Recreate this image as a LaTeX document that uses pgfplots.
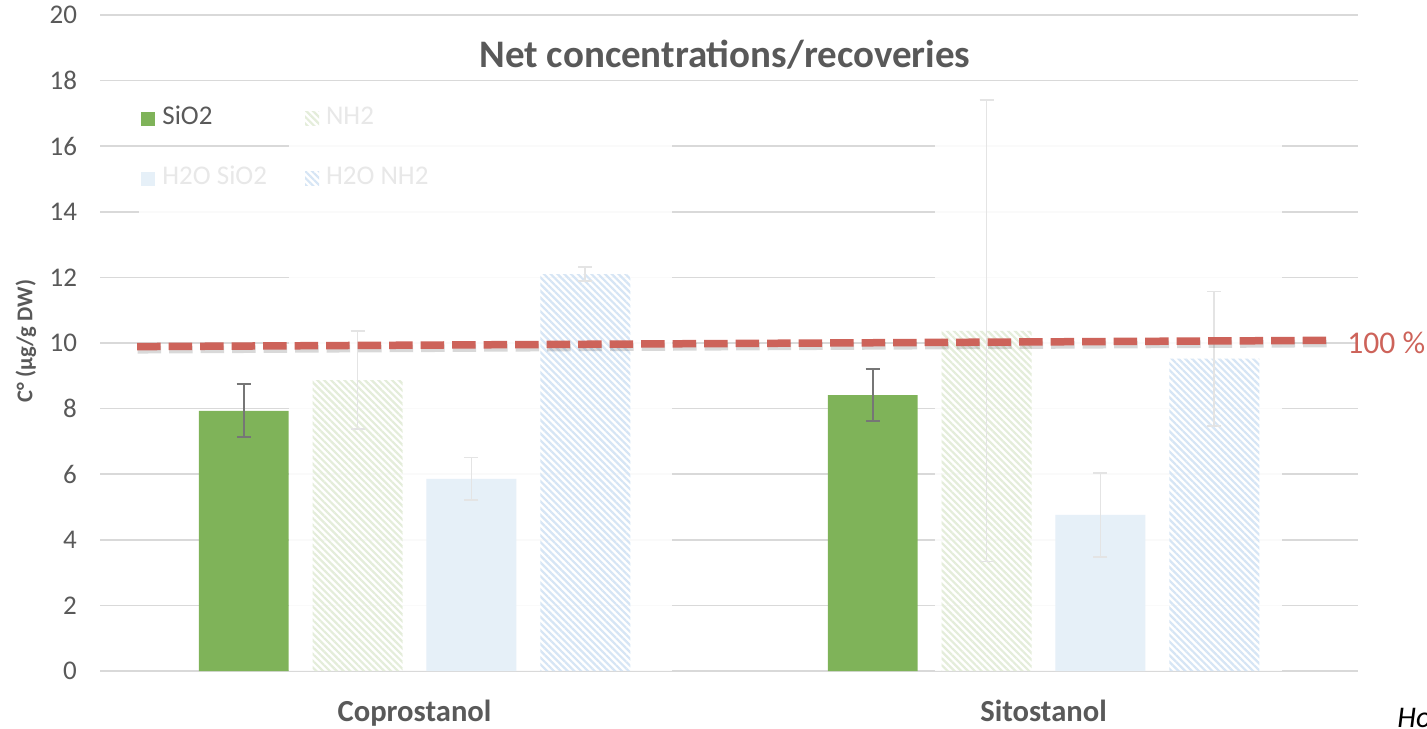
\documentclass[border=0pt]{standalone}
\usepackage{fontspec}
\setmainfont{Carlito}
\usepackage{pgfplots}
\pgfplotsset{compat=1.18}
\usetikzlibrary{patterns.meta}

\definecolor{sgreen}{RGB}{127,179,89}
\definecolor{ngreen}{RGB}{228,237,218}
\definecolor{hblue}{RGB}{230,240,248}
\definecolor{nblue}{RGB}{214,229,245}
\definecolor{gridgray}{RGB}{217,217,217}
\definecolor{textgray}{RGB}{89,89,89}
\definecolor{fadetext}{RGB}{232,232,232}
\definecolor{ebdark}{RGB}{118,118,118}
\definecolor{eblight}{RGB}{228,228,228}
\definecolor{refred}{RGB}{205,99,90}

\begin{document}
\begin{tikzpicture}
\useasboundingbox (0,0) rectangle (713.5pt,364pt);
\begin{axis}[
  at={(50pt,28.5pt)}, anchor=south west,
  scale only axis, width=629pt, height=328pt,
  xmin=-0.5, xmax=1.5, ymin=0, ymax=20,
  clip=false,
  xtick={0,1}, xticklabels={Coprostanol,Sitostanol},
  ytick={0,2,...,20},
  axis line style={draw=none},
  major tick length=0pt,
  ymajorgrids, grid style={color=gridgray, line width=0.8pt},
  /pgf/number format/assume math mode=true,
  yticklabel style={font=\fontsize{13.5}{16}\selectfont, color=textgray, xshift=-8pt},
  xticklabel style={font=\bfseries\fontsize{15.3}{18}\selectfont, color=textgray, inner sep=0pt, yshift=-14.5pt},
  ylabel={C° (µg/g DW)},
  ylabel style={at={(axis description cs:-0.0588,0.503)}, anchor=center, rotate=0, font=\bfseries\fontsize{11.3}{13}\selectfont, color=textgray},
  title={Net concentrations/recoveries},
  title style={at={(axis description cs:0.4968,0.9207)}, anchor=base, yshift=-6pt, font=\bfseries\fontsize{19.5}{23}\selectfont, color=textgray},
  legend columns=2,
  legend cell align=left,
  legend style={at={(axis description cs:0.0326,0.861)}, anchor=north west, draw=none, fill=none, inner sep=0pt,
    font=\fontsize{13.5}{16}\selectfont, row sep=18pt,
    nodes={inner sep=0pt, text height=9pt, text depth=3pt},
    /tikz/every odd column/.append style={column sep=3.5pt},
    /tikz/every even column/.append style={column sep=19pt}},
  mybar/.style={ybar, bar width=0.143, bar shift=0pt, draw=none,
    legend image code/.code={\path[##1, draw=none] (0pt,-3.5pt) rectangle (7pt,3.5pt);},
    error bars/y dir=both, error bars/y explicit},
]
% fading overlays (animation fade of the three inactive series)
\fill[white, opacity=0.88] (axis cs:-0.1995,0) rectangle (axis cs:0.41,17.5);
\fill[white, opacity=0.88] (axis cs:0.8275,0) rectangle (axis cs:1.379,17.5);
\fill[white, opacity=0.88] (axis cs:-0.438,13.8) rectangle (axis cs:-0.1995,15.9);

\addplot[mybar, fill=sgreen,
  error bars/error bar style={line width=1pt, color=ebdark},
  error bars/error mark options={rotate=90, mark size=3.5pt, line width=1pt, color=ebdark}]
  coordinates {(-0.2715,7.93) +- (0,0.81) (0.7285,8.41) +- (0,0.80)};
\addlegendentry{\textcolor{textgray}{SiO2}}

\addplot[mybar, pattern={Lines[angle=-45,distance=2.4pt,line width=1.1pt]}, pattern color=ngreen,
  error bars/error bar style={line width=0.8pt, color=eblight},
  error bars/error mark options={rotate=90, mark size=3.5pt, line width=0.8pt, color=eblight}]
  coordinates {(-0.0905,8.87) +- (0,1.50) (0.9095,10.37) +- (0,7.03)};
\addlegendentry{\textcolor{fadetext}{NH2}}

\addplot[mybar, fill=hblue,
  error bars/error bar style={line width=0.8pt, color=eblight},
  error bars/error mark options={rotate=90, mark size=3.5pt, line width=0.8pt, color=eblight}]
  coordinates {(0.0905,5.86) +- (0,0.65) (1.0905,4.76) +- (0,1.28)};
\addlegendentry{\textcolor{fadetext}{H2O SiO2}}

\addplot[mybar, pattern={Lines[angle=-45,distance=2.4pt,line width=1.1pt]}, pattern color=nblue,
  error bars/error bar style={line width=0.8pt, color=eblight},
  error bars/error mark options={rotate=90, mark size=3.5pt, line width=0.8pt, color=eblight}]
  coordinates {(0.2715,12.10) +- (0,0.21) (1.2715,9.52) +- (0,2.05)};
\addlegendentry{\textcolor{fadetext}{H2O NH2}}

% 100 % reference line with shadow
\addplot[forget plot, color=black, opacity=0.15, line width=3.75pt, dash pattern=on 11.75pt off 4pt, yshift=-1.6pt, xshift=0.3pt]
  coordinates {(-0.441,9.89) (1.451,10.08)};
\addplot[forget plot, color=refred, line width=3.75pt, dash pattern=on 11.75pt off 4pt]
  coordinates {(-0.441,9.89) (1.451,10.08)};
\node[anchor=west, inner sep=0pt, text=refred, font=\fontsize{15.8}{19}\selectfont] at (axis cs:1.4825,10.0) {100 \%};
\end{axis}
\node[anchor=base west, inner sep=0pt, font=\itshape\fontsize{15}{18}\selectfont] at (698.5pt,0.5pt) {Ho};
\end{tikzpicture}
\end{document}
